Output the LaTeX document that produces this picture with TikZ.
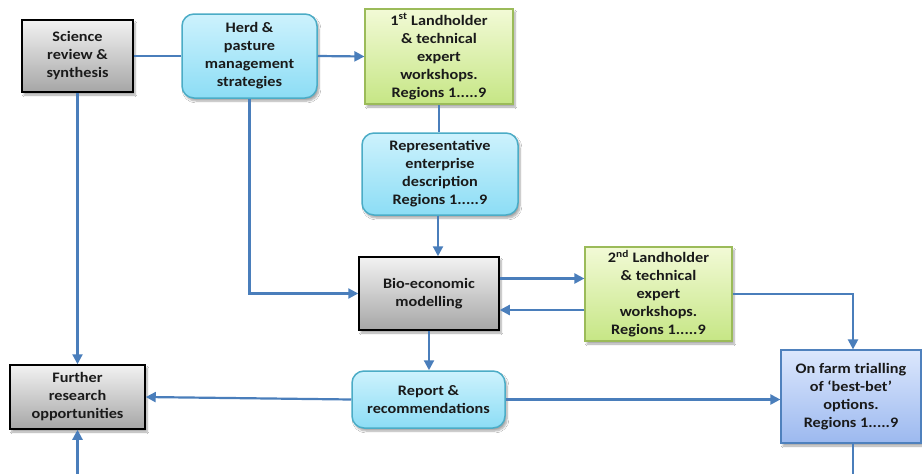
\documentclass[tikz,border=0pt]{standalone}
\usepackage{fontspec}
\setmainfont{Carlito}[FakeStretch=1.12]
\usetikzlibrary{arrows.meta,shadows.blur,calc}
\definecolor{linec}{HTML}{4A7EBB}
\definecolor{txt}{HTML}{1A1A1A}
\definecolor{cyantop}{HTML}{CDF2FD}
\definecolor{cyanbot}{HTML}{8CDDF5}
\definecolor{cyanbd}{HTML}{4BACC6}
\definecolor{greentop}{HTML}{F2FAD6}
\definecolor{greenbot}{HTML}{C6E685}
\definecolor{greenbd}{HTML}{9BBB59}
\definecolor{bluetop}{HTML}{DCE7FD}
\definecolor{bluebot}{HTML}{9CB9EF}
\definecolor{bluebd}{HTML}{4F81BD}
\definecolor{graytop}{HTML}{F2F2F2}
\definecolor{graybot}{HTML}{A6A6A6}
\tikzset{
  base/.style={draw, line width=1.2pt, align=center, text=txt, inner sep=2pt,
    font=\fontsize{14.5}{18}\selectfont\bfseries,
    blur shadow={shadow xshift=2pt, shadow yshift=-3pt, shadow blur steps=6, shadow opacity=35}},
  graybox/.style={base, draw=black, line width=1.5pt, top color=graytop, bottom color=graybot},
  cyanbox/.style={base, draw=cyanbd, line width=1.5pt, rounded corners=12pt, top color=cyantop, bottom color=cyanbot},
  greenbox/.style={base, draw=greenbd, top color=greentop, bottom color=greenbot},
  bluebox/.style={base, draw=bluebd, top color=bluetop, bottom color=bluebot},
  conn/.style={draw=linec, line width=2.2pt},
  arr/.style={conn, -{Triangle[length=10pt,width=10pt]}}
}
\begin{document}
\begin{tikzpicture}[x=1pt,y=-1pt]
\useasboundingbox[fill=white] (0,0) rectangle (922,474);
\node[graybox, minimum width=111pt, minimum height=72pt] (sci) at (77.5,56) {Science\\review \&\\synthesis};
\node[cyanbox, minimum width=135pt, minimum height=84pt] (herd) at (249.5,56) {Herd \&\\pasture\\management\\strategies};
\node[greenbox, minimum width=148pt, minimum height=95pt] (lh1) at (439,56.5) {1\textsuperscript{st} Landholder\\\& technical\\expert\\workshops.\\Regions 1.....9};
\node[cyanbox, minimum width=156pt, minimum height=82pt] (rep) at (440,174) {Representative\\enterprise\\description\\Regions 1.....9};
\node[graybox, minimum width=140pt, minimum height=73pt] (bio) at (429,293.5) {Bio-economic\\modelling};
\node[greenbox, minimum width=147pt, minimum height=94pt] (lh2) at (658.5,294) {2\textsuperscript{nd} Landholder\\\& technical\\expert\\workshops.\\Regions 1.....9};
\node[bluebox, minimum width=140pt, minimum height=93pt] (farm) at (851,396.5) {On farm trialling\\of `best-bet'\\options.\\Regions 1.....9};
\node[cyanbox, minimum width=153pt, minimum height=57pt] (rpt) at (428.5,399.5) {Report \&\\recommendations};
\node[graybox, minimum width=135pt, minimum height=64pt] (fur) at (77.5,397) {Further\\research\\opportunities};
\coordinate (bfarm) at (853,474);
\coordinate (bfur) at (77.5,474);
\draw[conn] (sci.east) -- (herd.west);
\draw[arr] (herd.east) -- (lh1.west);
\draw[conn] (lh1.south) -- (lh1.south |- rep.north);
\draw[arr] ([xshift=-2pt]rep.south) -- ([xshift=-2pt]rep.south |- bio.north);
\draw[arr] (herd.south) |- (bio.west);
\draw[arr] (sci.south) -- (fur.north);
\draw[arr] ([yshift=15pt]bio.east) -- ([yshift=15pt]bio.east -| lh2.west);
\draw[arr] ([yshift=-16pt]lh2.west) -- ([yshift=-16pt]lh2.west -| bio.east);
\draw[arr] (lh2.east) -| ([xshift=2pt]farm.north);
\draw[arr] (bio.south) -- (bio.south |- rpt.north);
\draw[arr] (rpt.west) -- (fur.east);
\draw[arr] (rpt.east) -- (rpt.east -| farm.west);
\draw[conn] ([xshift=2pt]farm.south) -- (bfarm);
\draw[arr] (bfur) -- (fur.south);
\end{tikzpicture}
\end{document}
